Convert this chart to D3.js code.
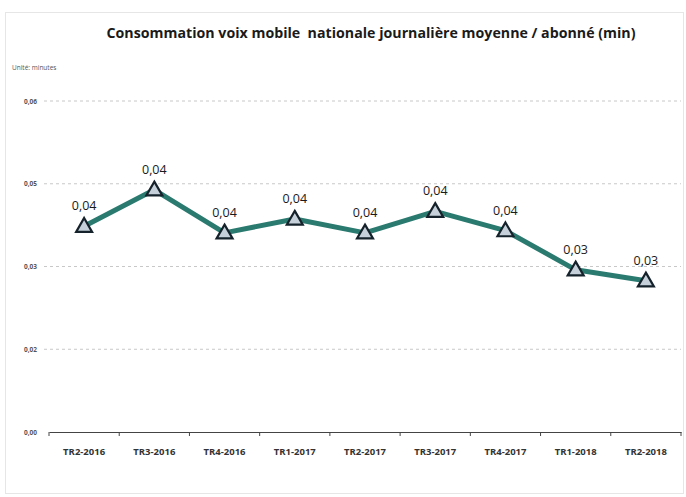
<!DOCTYPE html>
<html><head><meta charset="utf-8">
<script src="https://cdn.jsdelivr.net/npm/d3@7"></script>
<style>body{margin:0;background:#fff;}svg{display:block;}</style>
</head><body>
<svg id="c" width="686" height="497"></svg>
<script>
const categories = ["TR2-2016","TR3-2016","TR4-2016","TR1-2017","TR2-2017","TR3-2017","TR4-2017","TR1-2018","TR2-2018"];
const values = [0.0373, 0.0439, 0.0361, 0.0386, 0.0361, 0.0400, 0.0365, 0.0294, 0.0274];
const tickValues = [0, 0.015, 0.03, 0.045, 0.06];
const tickLabels = ["0,00","0,02","0,03","0,05","0,06"];
const title = "Consommation voix mobile  nationale journalière moyenne / abonné (min)";
const unit = "Unité: minutes";

const svg = d3.select("#c");
const font = "'Open Sans', 'DejaVu Sans', sans-serif";
// border
svg.append("rect").attr("x",5.5).attr("y",12.5).attr("width",678).attr("height",481)
  .attr("fill","#fff").attr("stroke","#e6e6e6");

const x = d3.scaleBand().domain(categories).range([49,681]);
const y = d3.scaleLinear().domain([0,0.06]).range([432,101]);

svg.append("text").attr("x",371).attr("y",38).attr("text-anchor","middle")
  .attr("xml:space","preserve").style("white-space","pre")
  .attr("font-family",font).attr("font-weight","bold").attr("font-size",13.5)
  .attr("textLength",529).attr("lengthAdjust","spacingAndGlyphs")
  .attr("fill","#1a1a1a").text(title);
svg.append("text").attr("x",12).attr("y",70).attr("font-family",font)
  .attr("font-size",6.5).attr("fill","#555").text(unit);

// grid
const grid = svg.append("g");
tickValues.slice(1).forEach(v=>{
  grid.append("line").attr("x1",44).attr("x2",681).attr("y1",y(v)).attr("y2",y(v))
    .attr("stroke","#c8c8c8").attr("stroke-width",1).attr("stroke-dasharray","3,3");
});
// y labels
tickValues.forEach((v,i)=>{
  svg.append("text").attr("x",37).attr("y",y(v)+2.5).attr("text-anchor","end")
    .attr("font-family",font).attr("font-size",6.5).attr("font-weight","bold")
    .attr("fill","#555").text(tickLabels[i]);
});
// x axis
const xAxis = d3.axisBottom(x).tickSizeInner(0).tickSizeOuter(0).tickPadding(16);
const gx = svg.append("g").attr("transform",`translate(0,${y(0)})`).call(xAxis);
gx.select(".domain").attr("stroke","#444").attr("stroke-width",1.2);
gx.selectAll("text").attr("font-family",font).attr("font-size",9.5).attr("font-weight","bold").attr("fill","#333");
const bounds = categories.map(c=>x(c)).concat([x.range()[1]]);
bounds.forEach(b=>{
  gx.append("line").attr("x1",b).attr("x2",b).attr("y1",0).attr("y2",4).attr("stroke","#444").attr("stroke-width",1);
});

// line
const cx = d => x(d.c)+x.bandwidth()/2;
const data = categories.map((c,i)=>({c, v: values[i]}));
svg.append("path").datum(data)
  .attr("d", d3.line().x(cx).y(d=>y(d.v)))
  .attr("fill","none").attr("stroke","#2a7a70").attr("stroke-width",5).attr("stroke-linejoin","round");

// markers
const tri = d3.symbol().type(d3.symbolTriangle).size(110);
svg.selectAll(".m").data(data).join("path")
  .attr("transform", d=>`translate(${cx(d)},${y(d.v)+1})`)
  .attr("d", tri).attr("fill","#c5d0da").attr("stroke","#16222b").attr("stroke-width",2.2).attr("stroke-linejoin","miter");

// labels
svg.selectAll(".lbl").data(data).join("text")
  .attr("x", cx).attr("y", d=>y(d.v)-16).attr("text-anchor","middle")
  .attr("font-family",font).attr("font-size",12.5).attr("font-weight",500).attr("fill","#1a1a1a")
  .text(d=>d3.format(".2f")(d.v).replace(".",","));
</script>
</body></html>
